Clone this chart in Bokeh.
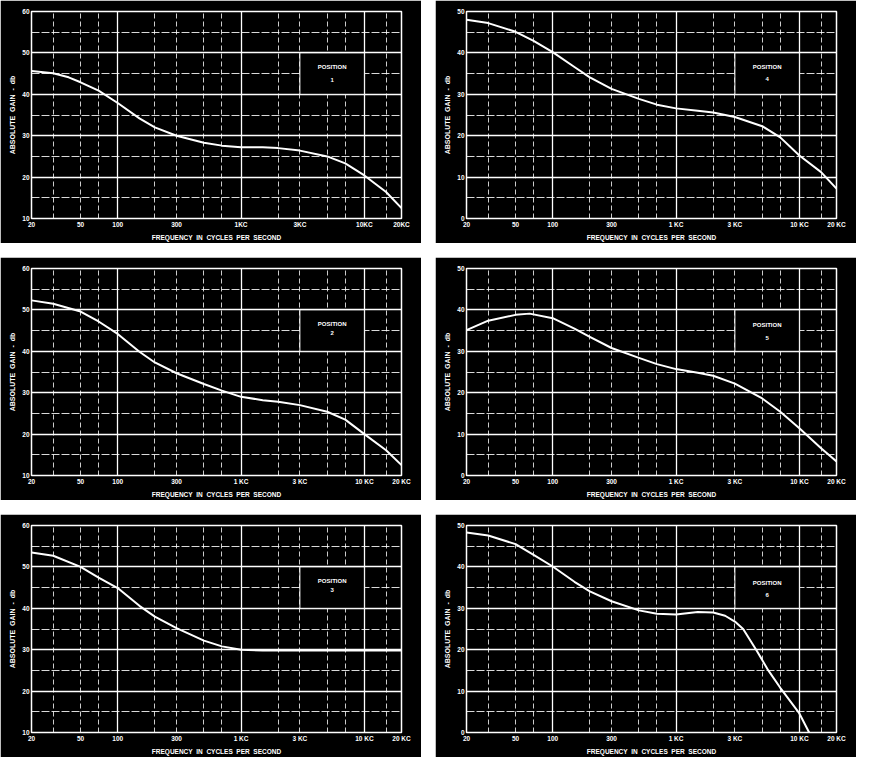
from bokeh.plotting import figure
from bokeh.models import FixedTicker, Grid
from bokeh.layouts import column, row
from bokeh.embed import file_html
from bokeh.resources import INLINE
from bokeh.core.properties import value

# ---------------- data ----------------
FREQ_TICKS = [20, 50, 100, 300, 1000, 3000, 10000, 20000]
FREQ_TICK_LABELS = ["20", "50", "100", "300", "1 KC", "3 KC", "10 KC", "20 KC"]
LABELS_1 = ["20", "50", "100", "300", "1KC", "3KC", "10KC", "20KC"]
FREQ_GRID_MAJOR = [100, 1000, 10000]
FREQ_GRID_MINOR = [30, 50, 70, 200, 300, 500, 700, 2000, 3000, 5000, 7000, 15000]

FREQ_1 = [20, 30, 40, 50, 70, 100, 150, 200, 300, 500, 700, 1000, 1500, 2000, 3000, 5000, 7000, 10000, 15000, 20000]
GAIN_1 = [45.6, 45.1, 44.1, 42.9, 40.9, 37.9, 34.2, 32.0, 30.0, 28.3, 27.6, 27.2, 27.2, 27.0, 26.4, 25.0, 23.3, 20.4, 16.4, 12.5]

FREQ_2 = [20, 30, 50, 70, 100, 150, 200, 300, 500, 700, 1000, 1500, 2000, 3000, 5000, 7000, 10000, 15000, 20000]
GAIN_2 = [52.3, 51.5, 49.6, 47.2, 44.2, 39.9, 37.3, 34.7, 32.1, 30.5, 29.0, 28.2, 27.8, 27.0, 25.4, 23.5, 20.0, 16.1, 12.5]

FREQ_3 = [20, 30, 50, 70, 100, 150, 200, 300, 500, 700, 1000, 1500, 2000, 5000, 10000, 20000]
GAIN_3 = [53.5, 52.7, 50.0, 47.4, 44.9, 40.6, 38.0, 35.2, 32.2, 30.8, 30.0, 29.8, 29.8, 29.8, 29.8, 29.8]

FREQ_4 = [20, 30, 50, 70, 100, 150, 200, 300, 500, 700, 1000, 1500, 2000, 3000, 5000, 7000, 10000, 15000, 20000]
GAIN_4 = [48.0, 47.2, 45.1, 42.9, 40.2, 36.6, 34.1, 31.3, 28.9, 27.5, 26.6, 26.0, 25.6, 24.5, 22.3, 19.6, 15.2, 11.2, 7.2]

FREQ_5 = [20, 30, 50, 65, 100, 150, 200, 300, 500, 700, 1000, 1500, 2000, 3000, 5000, 7000, 10000, 15000, 20000]
GAIN_5 = [35.1, 37.4, 38.8, 39.1, 38.0, 35.5, 33.5, 30.8, 28.4, 26.9, 25.7, 24.8, 24.1, 22.2, 18.6, 15.4, 11.4, 6.6, 3.4]

FREQ_6 = [20, 30, 50, 70, 100, 150, 200, 300, 500, 700, 1000, 1500, 2000, 2500, 3000, 3500, 4500, 5600, 7000, 10000, 12000]
GAIN_6 = [48.3, 47.6, 45.5, 42.9, 40.1, 36.4, 34.1, 31.7, 29.5, 28.7, 28.5, 29.1, 29.0, 28.2, 26.8, 25.0, 19.8, 15.0, 10.8, 4.6, 0.0]

POSITION_NAMES = ["1", "2", "3", "4", "5", "6"]
BOX_FREQ = [3000, 10000]

FONT = "Liberation Sans"
NB = "\u00a0"


def panel(freq, gain, y_lo, y_hi, box_lo, box_hi, pos_y, num_y, name, labels):
    p = figure(width=421, height=243, x_axis_type="log",
               x_range=(20, 20000), y_range=(y_lo, y_hi),
               output_backend="svg", toolbar_location=None,
               background_fill_color="black", border_fill_color="black",
               outline_line_color="white", outline_line_width=1.5,
               min_border_left=31, min_border_right=20,
               min_border_top=11, min_border_bottom=24)

    # grids
    p.xgrid.ticker = FixedTicker(ticks=FREQ_GRID_MAJOR, minor_ticks=[])
    p.xgrid.grid_line_color = "white"
    p.xgrid.grid_line_width = 1.3
    p.ygrid.ticker = FixedTicker(ticks=list(range(y_lo, y_hi + 1, 10)), minor_ticks=[])
    p.ygrid.grid_line_color = "white"
    p.ygrid.grid_line_width = 1.3
    p.add_layout(Grid(dimension=0, ticker=FixedTicker(ticks=FREQ_GRID_MINOR, minor_ticks=[]),
                      grid_line_color="white", grid_line_alpha=0.8,
                      grid_line_width=1, grid_line_dash="5 3"))
    p.add_layout(Grid(dimension=1, ticker=FixedTicker(ticks=list(range(y_lo + 5, y_hi, 10)), minor_ticks=[]),
                      grid_line_color="white", grid_line_alpha=0.85,
                      grid_line_width=1, grid_line_dash="8 2"))

    # axes
    p.xaxis.ticker = FixedTicker(ticks=FREQ_TICKS, minor_ticks=[])
    p.xaxis.major_label_overrides = {t: l for t, l in zip(FREQ_TICKS, labels)}
    p.yaxis.ticker = FixedTicker(ticks=list(range(y_lo, y_hi + 1, 10)), minor_ticks=[])
    p.xaxis.axis_label = (NB * 2).join(["FREQUENCY", "IN", "CYCLES", "PER", "SECOND"])
    p.yaxis.axis_label = (NB * 2).join(["ABSOLUTE", "GAIN", "-", "db"])
    for ax in (p.xaxis, p.yaxis):
        ax.axis_line_color = None
        ax.major_tick_line_color = None
        ax.minor_tick_line_color = None
        ax.major_tick_out = 0
        ax.major_tick_in = 0
        ax.major_label_standoff = 2
        ax.axis_label_standoff = 3
        ax.major_label_text_color = "white"
        ax.major_label_text_font = FONT
        ax.major_label_text_font_style = "bold"
        ax.major_label_text_font_size = "6.5px"
        ax.axis_label_text_color = "white"
        ax.axis_label_text_font = FONT
        ax.axis_label_text_font_style = "bold"
        ax.axis_label_text_font_size = "6.5px"
    p.yaxis.axis_label_text_font_size = "7px"
    p.xaxis.major_label_text_align = "left"

    # curve
    p.line(freq, gain, line_color="white", line_width=2, line_join="round")

    # position box
    p.quad(left=[BOX_FREQ[0]], right=[BOX_FREQ[1]], bottom=[box_lo], top=[box_hi],
           fill_color="black", line_color="white", line_width=1)
    cx = (BOX_FREQ[0] * BOX_FREQ[1]) ** 0.5
    p.text(x=[cx, cx], y=[pos_y, num_y], text=["POSITION", name],
           text_color="white", text_font=value(FONT), text_font_style="bold",
           text_font_size="6px", text_align="center", text_baseline="middle")
    return p


p1 = panel(FREQ_1, GAIN_1, 10, 60, 40, 50, 46.6, 43.4, POSITION_NAMES[0], LABELS_1)
p2 = panel(FREQ_2, GAIN_2, 10, 60, 40, 50, 46.7, 44.3, POSITION_NAMES[1], FREQ_TICK_LABELS)
p3 = panel(FREQ_3, GAIN_3, 10, 60, 40, 50, 46.7, 44.3, POSITION_NAMES[2], FREQ_TICK_LABELS)
p4 = panel(FREQ_4, GAIN_4, 0, 50, 30, 40, 36.6, 33.6, POSITION_NAMES[3], FREQ_TICK_LABELS)
p5 = panel(FREQ_5, GAIN_5, 0, 50, 30, 40, 36.3, 33.3, POSITION_NAMES[4], FREQ_TICK_LABELS)
p6 = panel(FREQ_6, GAIN_6, 0, 50, 30, 40, 36.2, 33.1, POSITION_NAMES[5], FREQ_TICK_LABELS)

layout = column(row(p1, p4, spacing=14),
                row(p2, p5, spacing=14),
                row(p3, p6, spacing=14),
                spacing=14)

open("out.html", "w").write(file_html(layout, INLINE))
